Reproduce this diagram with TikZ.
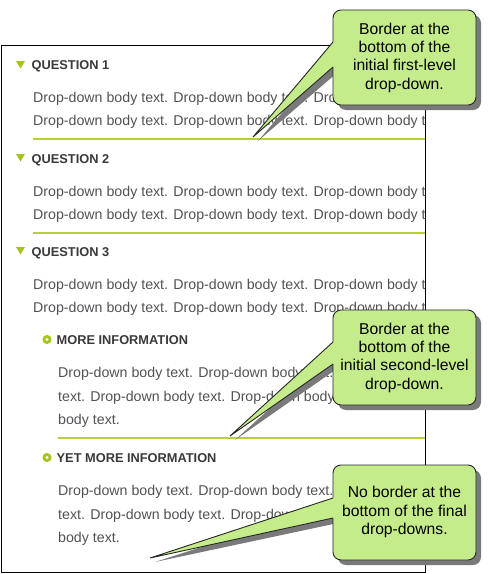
\documentclass[tikz,border=0pt]{standalone}
\usepackage{fontspec}
\setmainfont{Liberation Sans}
\definecolor{bodytxt}{RGB}{82,82,86}
\definecolor{headtxt}{RGB}{58,56,56}
\definecolor{icongreen}{RGB}{166,196,30}
\definecolor{sepgreen}{RGB}{184,208,56}
\definecolor{callfill}{RGB}{196,236,138}
\definecolor{shadowgray}{RGB}{122,122,122}
\tikzset{
  bodyline/.style={anchor=base west, inner sep=0pt, text=bodytxt, font=\fontsize{14.2}{17}\selectfont},
  headline/.style={anchor=base west, inner sep=0pt, text=headtxt, font=\fontsize{12.8}{15}\selectfont\bfseries},
  sepline/.style={draw=sepgreen, line width=1.2pt},
  calltext/.style={align=center, inner sep=0pt, text=black, font=\fontsize{15.7}{18.3}\selectfont},
  callbody/.style={fill=callfill, draw=black!85, line width=0.9pt, rounded corners=8pt},
  callshadow/.style={fill=shadowgray, rounded corners=8pt},
}
\begin{document}
\begin{tikzpicture}[x=1pt,y=-1pt]
\useasboundingbox (0,0) rectangle (491,574);
% content clipped to the frame
\begin{scope}
\clip (1,45) rectangle (425,572);
% Question 1
\fill[icongreen] (16,61) -- (25,61) -- (20.5,68.5) -- cycle;
\node[headline] (q1) at (31.5,69) {QUESTION 1};
\node[bodyline] (q1a) at (33,102) {Drop-down body text. Drop-down body text. Drop-down body text. Drop-down body text.};
\node[bodyline] (q1b) at (33,125) {Drop-down body text. Drop-down body text. Drop-down body text. Drop-down body text.};
\draw[sepline] (33,139) -- (426,139);
% Question 2
\fill[icongreen] (16,154) -- (25,154) -- (20.5,161.5) -- cycle;
\node[headline] (q2) at (31.5,163) {QUESTION 2};
\node[bodyline] (q2a) at (33,196) {Drop-down body text. Drop-down body text. Drop-down body text. Drop-down body text.};
\node[bodyline] (q2b) at (33,219) {Drop-down body text. Drop-down body text. Drop-down body text. Drop-down body text.};
\draw[sepline] (33,233) -- (426,233);
% Question 3
\fill[icongreen] (16,247) -- (25,247) -- (20.5,254.5) -- cycle;
\node[headline] (q3) at (31.5,256) {QUESTION 3};
\node[bodyline] (q3a) at (33,289) {Drop-down body text. Drop-down body text. Drop-down body text. Drop-down body text.};
\node[bodyline] (q3b) at (33,312) {Drop-down body text. Drop-down body text. Drop-down body text. Drop-down body text.};
% More information
\fill[icongreen] (47,339.5) circle (4.6);
\fill[white] (47,339.5) circle (1.7);
\node[headline] (m1) at (56.5,344) {MORE INFORMATION};
\node[bodyline] (m1a) at (58,377) {Drop-down body text. Drop-down body text. Drop-down body};
\node[bodyline] (m1b) at (58,401) {text. Drop-down body text. Drop-down body text. Drop-down};
\node[bodyline] (m1c) at (58,424) {body text.};
\draw[sepline] (58,438) -- (426,438);
% Yet more information
\fill[icongreen] (47,457.5) circle (4.6);
\fill[white] (47,457.5) circle (1.7);
\node[headline] (m2) at (56.5,462) {YET MORE INFORMATION};
\node[bodyline] (m2a) at (58,495) {Drop-down body text. Drop-down body text. Drop-down body};
\node[bodyline] (m2b) at (58,519) {text. Drop-down body text. Drop-down body text. Drop-down};
\node[bodyline] (m2c) at (58,542) {body text.};
\end{scope}
% frame
\draw[black, line width=1pt] (1,45) rectangle (425,572);
% ---- callout 1
\coordinate (t1) at (253,137);
\fill[callshadow] (338,15) rectangle (481,110);
\fill[shadowgray] (258,141) -- (338,47) -- (338,72) -- cycle;
\fill[callbody] (333,10) rectangle (476,105);
\fill[callfill] (t1) -- (333,42) -- (336,42) -- (336,67) -- (333,67) -- cycle;
\draw[black!85, line width=0.9pt] (333,42) -- (t1) -- (333,67);
\node[calltext] (c1) at (404.5,57.5) {Border at the\\bottom of the\\initial first-level\\drop-down.};
% ---- callout 2
\coordinate (t2) at (230,436);
\fill[callshadow] (338,315) rectangle (481,410);
\fill[shadowgray] (235,440) -- (338,347) -- (338,368) -- cycle;
\fill[callbody] (333,310) rectangle (476,405);
\fill[callfill] (t2) -- (333,342) -- (336,342) -- (336,364) -- (333,364) -- cycle;
\draw[black!85, line width=0.9pt] (333,342) -- (t2) -- (333,364);
\node[calltext] (c2) at (404.5,357.5) {Border at the\\bottom of the\\initial second-level\\drop-down.};
% ---- callout 3
\coordinate (t3) at (150,558);
\fill[callshadow] (338,470) rectangle (481,565);
\fill[shadowgray] (155,562) -- (338,503) -- (338,523) -- cycle;
\fill[callbody] (333,465) rectangle (476,560);
\fill[callfill] (t3) -- (333,498) -- (336,498) -- (336,518) -- (333,518) -- cycle;
\draw[black!85, line width=0.9pt] (333,498) -- (t3) -- (333,518);
\node[calltext] (c3) at (404.5,512) {No border at the\\bottom of the final\\drop-downs.};
\end{tikzpicture}
\end{document}
